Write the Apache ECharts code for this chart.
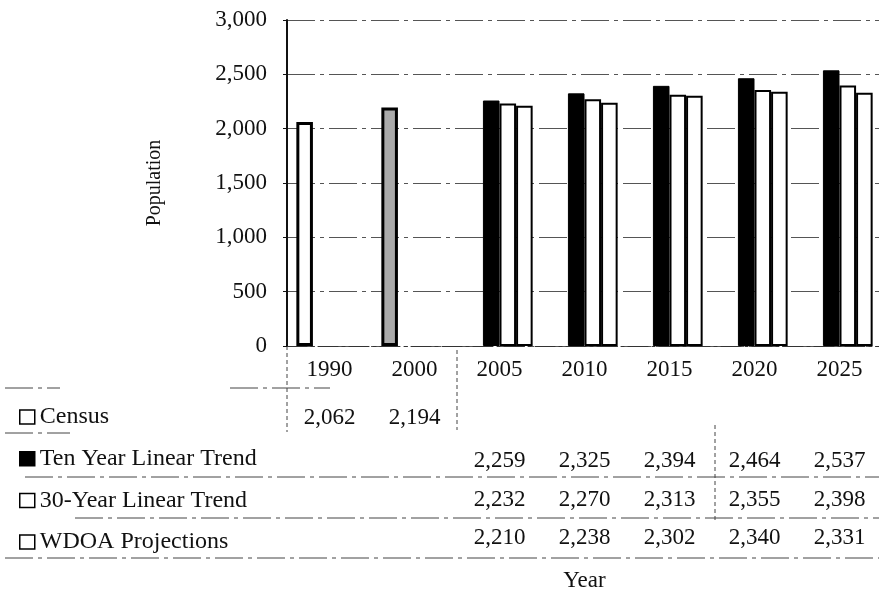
<!DOCTYPE html>
<html>
<head>
<meta charset="utf-8">
<script src="https://cdn.jsdelivr.net/npm/echarts@6/dist/echarts.min.js"></script>
<style>
  html, body { margin: 0; padding: 0; background: #fff; }
  #chart { width: 879px; height: 591px; }
</style>
</head>
<body>
<div id="chart"></div>
<script>
// values
const years = ['1990', '2000', '2005', '2010', '2015', '2020', '2025']
const census = [2062, 2194, null, null, null, null, null]
const tenYear = [null, null, 2259, 2325, 2394, 2464, 2537]
const thirtyYear = [null, null, 2232, 2270, 2313, 2355, 2398]
const wdoa = [null, null, 2210, 2238, 2302, 2340, 2331]
const seriesNames = ['Census', 'Ten Year Linear Trend', '30-Year Linear Trend', 'WDOA Projections']

const font = 'Liberation Serif'
const fmt = v => (v == null ? '' : v.toLocaleString('en-US'))

// one hidden axis per table row, so the numbers sit under their years
const tableRows = [census, tenYear, thirtyYear, wdoa]
const rowOffsets = [48, 91, 130, 168]
const tableAxes = tableRows.map((row, k) => ({
  type: 'category',
  data: years,
  gridIndex: 0,
  position: 'bottom',
  offset: rowOffsets[k],
  axisLine: { show: false },
  axisTick: { show: false },
  splitLine: { show: false },
  axisLabel: {
    interval: 0,
    margin: 12,
    fontFamily: font,
    fontSize: 23,
    color: '#111',
    formatter: (v, i) => fmt(row[i])
  }
}))

const dash = [28, 5, 4, 5]
const hLine = (x1, x2, y) => ({
  type: 'line',
  shape: { x1: x1, y1: y, x2: x2, y2: y },
  style: { stroke: '#444', lineWidth: 1, lineDash: dash }
})
const vLine = (x, y1, y2) => ({
  type: 'line',
  shape: { x1: x, y1: y1, x2: x, y2: y2 },
  style: { stroke: '#444', lineWidth: 1, lineDash: [4, 3] }
})

const chart = echarts.init(document.getElementById('chart'))
chart.setOption({
  animation: false,
  backgroundColor: '#fff',
  grid: { left: 287, right: -3, top: 20, bottom: 245, containLabel: false, outerBoundsMode: 'none' },
  legend: {
    orient: 'vertical',
    left: 14,
    top: 400,
    itemGap: 17.7,
    itemWidth: 15,
    itemHeight: 14,
    icon: 'rect',
    data: seriesNames,
    textStyle: { fontFamily: font, fontSize: 24, color: '#111' },
    itemStyle: { borderColor: '#000', borderWidth: 1.5 }
  },
  xAxis: [{
    type: 'category',
    data: years,
    name: 'Year',
    nameLocation: 'middle',
    nameGap: 223,
    nameTextStyle: { fontFamily: font, fontSize: 23, color: '#111' },
    axisLine: { lineStyle: { color: '#333', width: 1, type: [20, 4, 3, 4] } },
    axisTick: { show: false },
    axisLabel: { interval: 0, margin: 12, fontFamily: font, fontSize: 23, color: '#111' }
  }].concat(tableAxes),
  yAxis: {
    type: 'value',
    min: 0,
    max: 3000,
    interval: 500,
    name: 'Population',
    nameLocation: 'middle',
    nameGap: 122,
    nameTextStyle: { fontFamily: font, fontSize: 20, color: '#111' },
    axisLine: { show: true, lineStyle: { color: '#111', width: 2 } },
    axisTick: { show: true, length: 4, inside: false, lineStyle: { color: '#111' } },
    axisLabel: {
      margin: 20,
      fontFamily: font,
      fontSize: 23,
      color: '#111',
      formatter: v => v.toLocaleString('en-US')
    },
    splitLine: { lineStyle: { color: '#555', width: 1.2, type: dash } }
  },
  series: [
    {
      name: seriesNames[0],
      type: 'bar',
      barGap: 0,
      barCategoryGap: '22%',
      itemStyle: { color: '#fff', borderColor: '#000', borderWidth: 3 },
      data: census.map((v, i) => (i === 1 ? { value: v, itemStyle: { color: '#aaaaaa' } } : v))
    },
    {
      name: seriesNames[1],
      type: 'bar',
      barGap: 0,
      barCategoryGap: '22%',
      itemStyle: { color: '#000', borderColor: '#000', borderWidth: 1 },
      data: tenYear
    },
    {
      name: seriesNames[2],
      type: 'bar',
      barGap: 0,
      barCategoryGap: '22%',
      itemStyle: { color: '#fff', borderColor: '#000', borderWidth: 2 },
      data: thirtyYear
    },
    {
      name: seriesNames[3],
      type: 'bar',
      barGap: 0,
      barCategoryGap: '22%',
      itemStyle: { color: '#fff', borderColor: '#000', borderWidth: 2 },
      data: wdoa
    }
  ],
  graphic: [
    hLine(5, 60, 388),
    hLine(230, 330, 388),
    hLine(5, 70, 433),
    hLine(25, 879, 477),
    hLine(75, 879, 518),
    hLine(5, 879, 558),
    vLine(287, 346, 432),
    vLine(457, 350, 430),
    vLine(715, 425, 520)
  ]
})
</script>
</body>
</html>
